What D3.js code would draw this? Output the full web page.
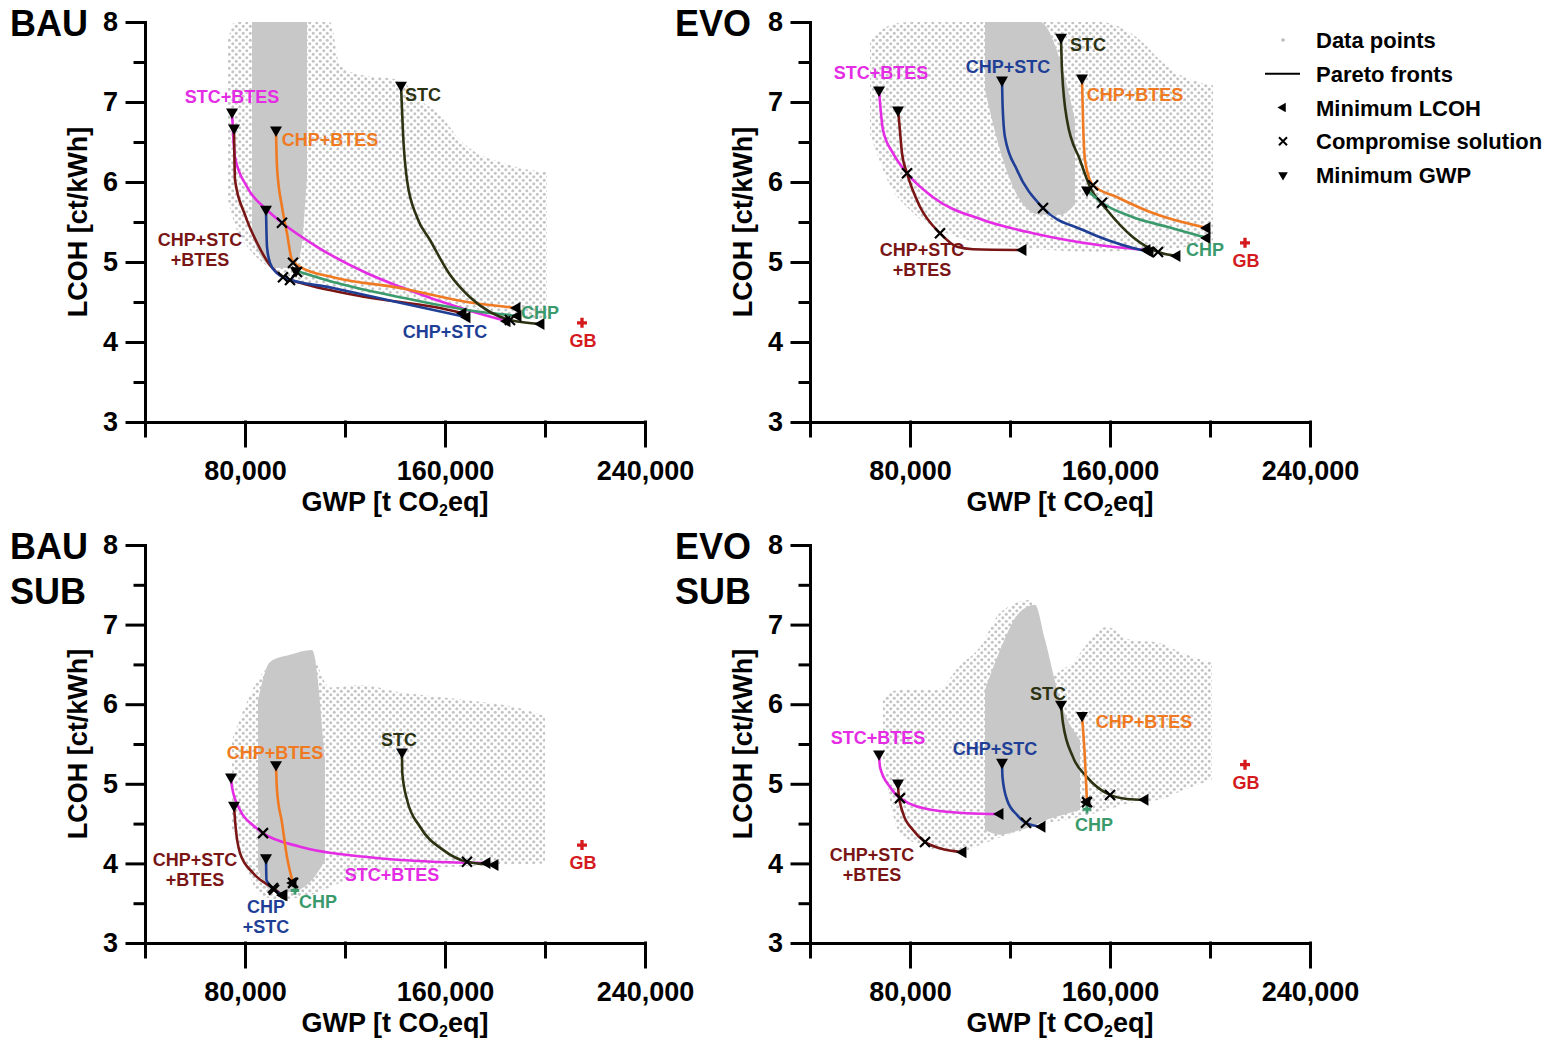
<!DOCTYPE html>
<html>
<head>
<meta charset="utf-8">
<style>
    body { margin: 0; background: #fff; }
    svg { display: block; font-family: "Liberation Sans", Arial, sans-serif; }
    .axis path, .axis line { stroke: #000; stroke-width: 3; stroke-linecap: square; }
    .axis text { font-size: 27px; font-weight: bold; fill: #000; font-family: "Liberation Sans", Arial, sans-serif; }
    .lbl { font-size: 18px; font-weight: bold; }
    .title { font-size: 27px; font-weight: bold; }
    .panel-name { font-size: 36px; font-weight: bold; }
    .legend text { font-size: 22px; font-weight: bold; }
</style>
</head>
<body>
<svg width="1557" height="1041"></svg>

<script src="https://cdn.jsdelivr.net/npm/d3@7"></script>
<script>
// ---- axes ----
const xTicksMajor = [80000, 160000, 240000];
const xTicksMinor = [40000, 120000, 200000];
const yTicksMajor = [3, 4, 5, 6, 7, 8];
const yTicksMinor = [3.5, 4.5, 5.5, 6.5, 7.5];

// ---- data point clouds: [GWP, LCOH top, LCOH bottom] ----
const bauCloud = [[73200,7.775,5.775],[76000,8,5.46],[82000,8,5.15],[90000,8,4.925],[102000,8,4.74],[114000,8,4.675],
    [118000,7.46,4.65],[126000,7.34,4.625],[142000,7.275,4.575],[150000,7.025,4.525],[158000,6.84,4.49],
    [166000,6.525,4.44],[174000,6.34,4.4],[182000,6.25,4.35],[190000,6.175,4.3],[200800,6.125,4.3]];
const bauCore = [[82800,8,5.34],[86000,8,5.09],[92000,8,4.925],[98000,8,4.925],[102000,8,5.09],[104800,8,6.06]];

const evoCloud = [[64000,7.775,6.6],[72000,7.96,5.96],[80000,8,5.65],[96000,8,5.34],[116000,8,5.21],[136000,8,5.15],
    [156000,8,5.125],[172000,7.775,5.15],[180000,7.525,5.15],[188000,7.34,5.175],[201200,7.21,5.275]];
const evoCore = [[110000,8,7.15],[116000,8,6.4],[124000,8,5.775],[132000,8,5.59],[140000,7.525,5.59],[146000,6.775,5.715]];

const bauSubCloud = [[74800,5.55,4.42],[80000,5.97,4.0],[86000,6.35,3.6],[94000,6.54,3.55],[106000,6.63,3.6],
    [114000,6.21,3.7],[126000,6.24,3.85],[142000,6.15,3.91],[158000,6.09,3.95],[174000,6.03,3.97],
    [190000,5.95,3.99],[200000,5.85,4.0]];
const bauSubCore = [[85200,6.05,3.92],[90000,6.53,3.67],[98000,6.62,3.64],[106800,6.68,3.79],[112000,5.3,4.04]];

const evoSubCloud = [[69200,6.09,5.3],[76000,6.18,4.38],[90800,6.18,4.17],[100000,6.49,4.14],[108000,6.72,4.23],
    [116000,7.15,4.33],[128000,7.31,4.44],[132000,6.81,4.48],[137200,6.39,4.52],[142800,6.47,4.55],
    [158800,6.97,4.67],[168000,6.81,4.76],[180000,6.77,4.8],[189200,6.64,4.92],[200800,6.52,5.05]];
const evoSubCore = [[110000,6.18,4.42],[116000,6.68,4.36],[124000,7.16,4.42],[130000,7.25,4.48],[134000,6.81,4.54],
    [140000,6.05,4.6],[148000,5.55,4.67]];

// ---- Pareto fronts: first point = minimum GWP, last point = minimum LCOH ----
const bauFronts = [
    {name: "STC+BTES", pts: [[74800,6.875],[76000,6.31],[80800,5.94],[88800,5.65],[94800,5.49],[108800,5.19],[128800,4.86],[142000,4.69],[168800,4.40],[184800,4.26]], comp: [94800,5.49]},
    {name: "CHP+STC+BTES", pts: [[75600,6.675],[76000,6.025],[80000,5.59],[84800,5.24],[90000,4.96],[95200,4.81],[102000,4.74],[128800,4.56],[155200,4.44],[167200,4.36]], comp: [98000,4.775]},
    {name: "CHP+STC", pts: [[88400,5.66],[88800,5.19],[90000,4.99],[92800,4.86],[95200,4.81],[115200,4.675],[142000,4.49],[168800,4.31]], comp: [95200,4.81]},
    {name: "CHP+BTES", pts: [[92400,6.65],[92800,6.19],[94800,5.69],[96800,5.36],[98800,5.025],[102000,4.94],[115200,4.81],[142000,4.675],[168800,4.5],[188800,4.425]], comp: [99200,4.99]},
    {name: "CHP", pts: [[100400,4.89],[115200,4.75],[142000,4.56],[168800,4.4],[189200,4.325]], comp: [100800,4.875]},
    {name: "STC", pts: [[142400,7.21],[143200,6.61],[144800,6.025],[148800,5.56],[154000,5.275],[162000,4.84],[170000,4.56],[178000,4.375],[186000,4.275],[198400,4.225]], comp: [186000,4.275]}
];
const evoFronts = [
    {name: "STC+BTES", pts: [[67600,7.15],[69200,6.65],[73200,6.36],[78800,6.11],[89200,5.81],[109200,5.525],[129200,5.36],[156000,5.21],[174800,5.15]], comp: [78800,6.11]},
    {name: "CHP+STC+BTES", pts: [[75200,6.9],[75600,6.775],[76800,6.36],[78800,6.11],[84000,5.69],[92000,5.36],[98800,5.19],[105200,5.16],[125200,5.15]], comp: [92000,5.36]},
    {name: "CHP+STC", pts: [[116800,7.275],[117000,6.99],[118000,6.56],[122800,6.15],[133200,5.675],[149200,5.4],[169200,5.175],[176000,5.125]], comp: [133200,5.675]},
    {name: "STC", pts: [[140400,7.81],[140800,7.4],[142800,6.775],[148000,6.275],[152000,5.94],[158800,5.65],[169200,5.31],[179200,5.125],[186800,5.075]], comp: [179200,5.125]},
    {name: "CHP+BTES", pts: [[148800,7.3],[149200,6.775],[150000,6.275],[153200,5.96],[162800,5.81],[176000,5.625],[198800,5.425]], comp: [153200,5.96]},
    {name: "CHP", pts: [[150800,5.9],[156800,5.74],[169200,5.56],[182800,5.44],[198800,5.3]], comp: [156800,5.74]}
];
const bauSubFronts = [
    {name: "STC+BTES", pts: [[74400,5.085],[74800,4.96],[78000,4.67],[83200,4.48],[87200,4.38],[102000,4.21],[128800,4.08],[155200,4.02],[176800,4.005]], comp: [87200,4.38]},
    {name: "CHP+STC+BTES", pts: [[75600,4.73],[76000,4.545],[78000,4.13],[83200,3.88],[91200,3.69],[95200,3.6]], comp: [91200,3.69]},
    {name: "CHP+STC", pts: [[88400,4.07],[88600,3.79],[91600,3.67],[95600,3.6]], comp: [91600,3.67]},
    {name: "CHP+BTES", pts: [[92400,5.24],[92800,4.92],[94800,4.51],[96800,4.08],[99200,3.755]], comp: [99200,3.755]},
    {name: "STC", pts: [[142800,5.4],[142900,5.14],[144800,4.8],[150000,4.46],[159200,4.17],[168800,4.02],[180000,3.98]], comp: [168800,4.02]}
];
const bauSubChp = [100000, 3.66];
const evoSubFronts = [
    {name: "STC+BTES", pts: [[67600,5.375],[68000,5.21],[72000,4.96],[76000,4.82],[89200,4.67],[102800,4.63],[116000,4.62]], comp: [76000,4.82]},
    {name: "CHP+STC+BTES", pts: [[75200,5.01],[75400,4.885],[77200,4.63],[81200,4.42],[86000,4.27],[92000,4.19],[101200,4.14]], comp: [86000,4.27]},
    {name: "CHP+STC", pts: [[116800,5.27],[117000,5.085],[118800,4.8],[122800,4.61],[126400,4.51],[132800,4.46]], comp: [126400,4.51]},
    {name: "STC", pts: [[140400,6.0],[141200,5.76],[145200,5.335],[150800,5.085],[160000,4.86],[166800,4.81],[174000,4.8]], comp: [160000,4.86]},
    {name: "CHP+BTES", pts: [[148800,5.86],[150000,5.3],[150800,4.77]], comp: [150800,4.77]}
];
const evoSubChp = [150800, 4.68];

// gas boiler reference (GB) per panel
const gbPoints = [[214800,4.24],[214000,5.24],[214800,4.23],[214000,5.24]];

// ---- curve labels: [text, GWP, LCOH] ----
const bauLabels = [["STC+BTES",74800,7.06],["CHP+BTES",114000,6.525],["CHP+STC\n+BTES",62000,5.275],
    ["CHP+STC",160000,4.125],["CHP",198000,4.36],["STC",151200,7.09]];
const evoLabels = [["STC+BTES",68400,7.36],["CHP+STC",119200,7.44],["STC",151200,7.71],["CHP+BTES",170000,7.09],
    ["CHP+STC\n+BTES",84800,5.15],["CHP",198000,5.15]];
const bauSubLabels = [["STC",141600,5.55],["CHP+BTES",92000,5.39],["CHP+STC\n+BTES",60000,4.04],
    ["STC+BTES",138800,3.85],["CHP\n+STC",88400,3.45],["CHP",109200,3.52]];
const evoSubLabels = [["STC+BTES",67200,5.58],["CHP+STC",114000,5.44],["STC",135200,6.13],["CHP+BTES",173600,5.78],
    ["CHP+STC\n+BTES",64800,4.11],["CHP",153600,4.48]];

const colors = {
    "STC+BTES": "#e42ce4",
    "CHP+STC+BTES": "#7a1515",
    "CHP+STC": "#1f3f96",
    "CHP+BTES": "#f07a22",
    "CHP": "#3a9a6c",
    "STC": "#2c3312",
    "GB": "#d41a1e"
};
const cloudGray = "#c4c4c4";

const svg = d3.select("svg");

// dotted texture for scattered data points
const defs = svg.append("defs");
const pat = defs.append("pattern").attr("id", "dots")
    .attr("patternUnits", "userSpaceOnUse").attr("width", 7).attr("height", 7);
pat.append("circle").attr("cx", 1.75).attr("cy", 1.75).attr("r", 1.5).attr("fill", cloudGray);
pat.append("circle").attr("cx", 5.25).attr("cy", 5.25).attr("r", 1.5).attr("fill", cloudGray);

const panels = [
    {names: ["BAU"], left: 145, top: 22, bottom: 422, cloud: bauCloud, core: bauCore, fronts: bauFronts, labels: bauLabels, gb: gbPoints[0]},
    {names: ["EVO"], left: 810, top: 22, bottom: 422, cloud: evoCloud, core: evoCore, fronts: evoFronts, labels: evoLabels, gb: gbPoints[1]},
    {names: ["BAU", "SUB"], left: 145, top: 545, bottom: 943, cloud: bauSubCloud, core: bauSubCore, fronts: bauSubFronts, labels: bauSubLabels, gb: gbPoints[2], chp: bauSubChp},
    {names: ["EVO", "SUB"], left: 810, top: 545, bottom: 943, cloud: evoSubCloud, core: evoSubCore, fronts: evoSubFronts, labels: evoSubLabels, gb: gbPoints[3], chp: evoSubChp}
];

const triangle = d3.symbol().type(d3.symbolTriangle).size(62);

panels.forEach((p, i) => {
    let x = d3.scaleLinear().domain([40000, 240000]).range([p.left, p.left + 500]);
    let y = d3.scaleLinear().domain([3, 8]).range([p.bottom, p.top]);
    let g = svg.append("g");

    // clouds
    let area = d3.area().x(d => x(d[0])).y0(d => y(d[2])).y1(d => y(d[1])).curve(d3.curveMonotoneX);
    g.append("path").datum(p.cloud).attr("d", area).attr("fill", "url(#dots)");
    g.append("path").datum(p.core).attr("d", area).attr("fill", "#c8c8c8");

    // axes
    g.append("g").attr("class", "axis").attr("transform", `translate(${p.left},0)`)
        .call(d3.axisLeft(y).tickValues(yTicksMinor).tickSize(10).tickSizeOuter(0).tickFormat(""));
    g.append("g").attr("class", "axis").attr("transform", `translate(${p.left},0)`)
        .call(d3.axisLeft(y).tickValues(yTicksMajor).tickSize(18).tickSizeOuter(0).tickPadding(9).tickFormat(d3.format("d")));
    g.append("g").attr("class", "axis").attr("transform", `translate(0,${p.bottom})`)
        .call(d3.axisBottom(x).tickValues(xTicksMinor).tickSize(14).tickSizeOuter(0).tickFormat(""));
    g.append("g").attr("class", "axis").attr("transform", `translate(0,${p.bottom})`)
        .call(d3.axisBottom(x).tickValues(xTicksMajor).tickSize(24).tickSizeOuter(0).tickPadding(15).tickFormat(d3.format(",")));

    // axis titles
    g.append("text").attr("class", "title").attr("text-anchor", "middle")
        .attr("transform", `translate(${p.left - 58},${(p.top + p.bottom) / 2}) rotate(-90)`)
        .text("LCOH [ct/kWh]");
    let xt = g.append("text").attr("class", "title").attr("text-anchor", "middle")
        .attr("x", p.left + 250).attr("y", p.bottom + 89);
    xt.append("tspan").text("GWP [t CO");
    xt.append("tspan").attr("font-size", 16).attr("dy", 5).text("2");
    xt.append("tspan").attr("dy", -5).text("eq]");

    // panel names
    p.names.forEach((n, k) => {
        g.append("text").attr("class", "panel-name")
            .attr("x", p.left - 135).attr("y", p.top + 14 + k * 45).text(n);
    });

    // fronts
    let line = d3.line().x(d => x(d[0])).y(d => y(d[1])).curve(d3.curveMonotoneX);
    g.selectAll(null).data(p.fronts).join("path")
        .attr("d", d => line(d.pts))
        .attr("fill", "none")
        .attr("stroke", d => colors[d.name])
        .attr("stroke-width", 2.6);

    // single-point CHP fronts
    if (p.chp) {
        g.append("path").attr("d", d3.symbol().type(d3.symbolCross).size(40)())
            .attr("transform", `translate(${x(p.chp[0])},${y(p.chp[1])})`)
            .attr("fill", colors["CHP"]);
    }

    // markers
    p.fronts.forEach(f => {
        let a = f.pts[0], b = f.pts[f.pts.length - 1];
        g.append("path").attr("d", triangle())
            .attr("transform", `translate(${x(a[0])},${y(a[1])}) rotate(180)`);
        g.append("path").attr("d", triangle())
            .attr("transform", `translate(${x(b[0])},${y(b[1])}) rotate(-90)`);
        g.append("path").attr("d", "M-5,-5L5,5M-5,5L5,-5")
            .attr("transform", `translate(${x(f.comp[0])},${y(f.comp[1])})`)
            .attr("stroke", "#000").attr("stroke-width", 2.2);
    });

    // GB
    g.append("path").attr("d", d3.symbol().type(d3.symbolCross).size(55)())
        .attr("transform", `translate(${x(p.gb[0])},${y(p.gb[1])})`)
        .attr("fill", colors["GB"]);
    g.append("text").attr("class", "lbl").attr("text-anchor", "middle")
        .attr("x", x(p.gb[0]) + 1).attr("y", y(p.gb[1]) + 24)
        .attr("fill", colors["GB"]).text("GB");

    // curve labels
    p.labels.forEach(l => {
        let key = l[0].replace("\n", "");
        let t = g.append("text").attr("class", "lbl").attr("text-anchor", "middle")
            .attr("fill", colors[key])
            .attr("x", x(l[1])).attr("y", y(l[2]) + 6);
        l[0].split("\n").forEach((s, k) => {
            t.append("tspan").attr("x", x(l[1])).attr("dy", k === 0 ? 0 : 20).text(s);
        });
    });
});

// legend
const legend = svg.append("g").attr("class", "legend");
const legendItems = ["Data points", "Pareto fronts", "Minimum LCOH", "Compromise solution", "Minimum GWP"];
const ly = d3.scalePoint().domain(legendItems).range([40, 175]);
legendItems.forEach(t => {
    legend.append("text").attr("x", 1316).attr("y", ly(t) + 8).text(t);
});
legend.append("circle").attr("cx", 1283).attr("cy", ly("Data points")).attr("r", 1.8).attr("fill", "#bbb");
legend.append("line").attr("x1", 1265).attr("x2", 1300)
    .attr("y1", ly("Pareto fronts")).attr("y2", ly("Pareto fronts"))
    .attr("stroke", "#000").attr("stroke-width", 2);
legend.append("path").attr("d", d3.symbol().type(d3.symbolTriangle).size(40)())
    .attr("transform", `translate(1283,${ly("Minimum LCOH")}) rotate(-90)`);
legend.append("path").attr("d", "M-4,-4L4,4M-4,4L4,-4")
    .attr("transform", `translate(1283,${ly("Compromise solution")})`)
    .attr("stroke", "#000").attr("stroke-width", 2);
legend.append("path").attr("d", d3.symbol().type(d3.symbolTriangle).size(40)())
    .attr("transform", `translate(1283,${ly("Minimum GWP")}) rotate(180)`);
</script>
</body>
</html>
